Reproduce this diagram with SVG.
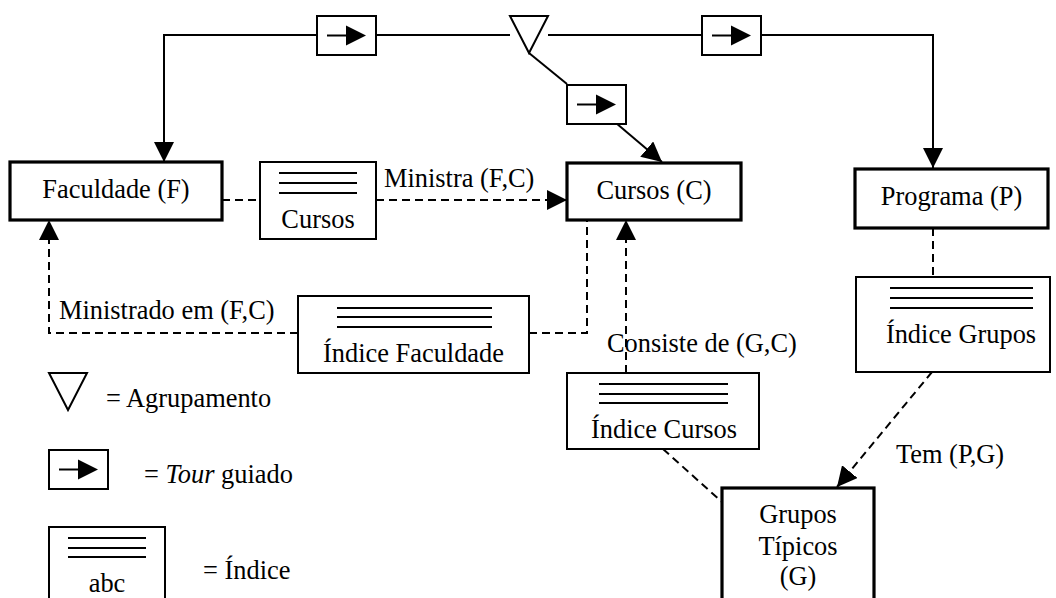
<svg xmlns="http://www.w3.org/2000/svg" width="1056" height="598" viewBox="0 0 1056 598">
  <style>
    text { font-family: "Liberation Serif", "Times New Roman", serif; font-size: 26.4px; fill: #000; }
    .c { text-anchor: middle; }
    .entity { fill: #fff; stroke: #000; stroke-width: 3.2; }
    .index { fill: #fff; stroke: #000; stroke-width: 2; }
    .bar { stroke: #000; stroke-width: 2; }
    .solid { fill: none; stroke: #000; stroke-width: 2; }
    .dash { fill: none; stroke: #000; stroke-width: 2; stroke-dasharray: 8 5; }
    .arrow { marker-end: url(#head); }
  </style>
  <defs>
    <marker id="head" markerUnits="userSpaceOnUse" markerWidth="20" markerHeight="20" refX="20" refY="10" orient="auto">
      <path d="M0,0 L20,10 L0,20 z" fill="#000"/>
    </marker>
    <!-- guided tour icon -->
    <g id="tour">
      <rect x="0" y="0" width="59" height="39" fill="#fff" stroke="#000" stroke-width="2"/>
      <line x1="10" y1="19.5" x2="30" y2="19.5" stroke="#000" stroke-width="2"/>
      <path d="M29,9.5 L49,19.5 L29,29.5 z" fill="#000"/>
    </g>
    <!-- grouping triangle -->
    <path id="group" d="M0,0 H38 L19,37 z" fill="#fff" stroke="#000" stroke-width="2"/>
  </defs>

  <!-- connectors -->
  <g id="connectors">
    <path class="solid arrow" d="M317,35 H164 V162"/>
    <path class="solid" d="M376,35 H510"/>
    <path class="solid" d="M548,35 H702"/>
    <path class="solid arrow" d="M760,35 H933 V168"/>
    <path class="solid" d="M529,53 L567,84"/>
    <path class="solid arrow" d="M616,123 L662,162"/>

    <path class="dash" d="M222,200 H260"/>
    <path class="dash arrow" d="M376,200 H567"/>
    <path class="dash arrow" d="M298,333 H49 V220"/>
    <path class="dash" d="M529,333 H587 V220"/>
    <path class="dash arrow" d="M626,373 V220"/>
    <path class="dash" d="M933,228 V277"/>
    <path class="dash arrow" d="M932,372 L837,487"/>
    <path class="dash" d="M663,449 L722,502"/>
  </g>

  <!-- navigation: tours and grouping -->
  <g id="tour-left"><use href="#tour" x="317" y="16"/></g>
  <g id="tour-right"><use href="#tour" x="702" y="16"/></g>
  <g id="tour-middle"><use href="#tour" x="567" y="85"/></g>
  <g id="grouping"><use href="#group" x="510" y="16"/></g>

  <!-- entities -->
  <g id="faculdade">
    <rect class="entity" x="10" y="162" width="212" height="58"/>
    <text class="c" x="116" y="198">Faculdade (F)</text>
  </g>
  <g id="cursos">
    <rect class="entity" x="567" y="163" width="174" height="57"/>
    <text class="c" x="654" y="199">Cursos (C)</text>
  </g>
  <g id="programa">
    <rect class="entity" x="855" y="169" width="193" height="59"/>
    <text class="c" x="951.5" y="205">Programa (P)</text>
  </g>
  <g id="grupos-tipicos">
    <rect class="entity" x="722" y="488" width="152" height="125"/>
    <text class="c" x="798" y="523">Grupos</text>
    <text class="c" x="798" y="555">Típicos</text>
    <text class="c" x="798" y="585">(G)</text>
  </g>

  <!-- indexes -->
  <g id="indice-cursos-fac">
    <rect class="index" x="260" y="162" width="116" height="77"/>
    <line class="bar" x1="279" y1="173" x2="357" y2="173"/>
    <line class="bar" x1="279" y1="183" x2="357" y2="183"/>
    <line class="bar" x1="279" y1="193" x2="357" y2="193"/>
    <text class="c" x="318" y="228">Cursos</text>
  </g>
  <g id="indice-faculdade">
    <rect class="index" x="298" y="296" width="231" height="77"/>
    <line class="bar" x1="337" y1="308" x2="492" y2="308"/>
    <line class="bar" x1="337" y1="317" x2="492" y2="317"/>
    <line class="bar" x1="337" y1="327" x2="492" y2="327"/>
    <text class="c" x="413.5" y="362">Índice Faculdade</text>
  </g>
  <g id="indice-cursos">
    <rect class="index" x="567" y="373" width="192" height="76"/>
    <line class="bar" x1="599" y1="384" x2="728" y2="384"/>
    <line class="bar" x1="599" y1="394" x2="728" y2="394"/>
    <line class="bar" x1="599" y1="403" x2="728" y2="403"/>
    <text class="c" x="664" y="438">Índice Cursos</text>
  </g>
  <g id="indice-grupos">
    <rect class="index" x="856" y="277" width="194" height="95"/>
    <line class="bar" x1="890" y1="288" x2="1033" y2="288"/>
    <line class="bar" x1="890" y1="298" x2="1033" y2="298"/>
    <line class="bar" x1="890" y1="308" x2="1033" y2="308"/>
    <text class="c" x="961" y="343">Índice Grupos</text>
  </g>

  <!-- connector labels -->
  <g id="labels">
    <text x="384" y="187">Ministra (F,C)</text>
    <text x="59" y="319">Ministrado em (F,C)</text>
    <text x="607" y="352">Consiste de (G,C)</text>
    <text x="896" y="463">Tem (P,G)</text>
  </g>

  <!-- legend -->
  <g id="legend">
    <use href="#group" x="49" y="373"/>
    <text x="106" y="407">= Agrupamento</text>
    <use href="#tour" x="49" y="450"/>
    <text x="144" y="483">= <tspan font-style="italic">Tour</tspan> guiado</text>
    <rect class="index" x="49" y="527" width="116" height="90"/>
    <line class="bar" x1="68" y1="538" x2="146" y2="538"/>
    <line class="bar" x1="68" y1="548" x2="146" y2="548"/>
    <line class="bar" x1="68" y1="557" x2="146" y2="557"/>
    <text class="c" x="107" y="592">abc</text>
    <text x="203" y="579">= Índice</text>
  </g>
</svg>
